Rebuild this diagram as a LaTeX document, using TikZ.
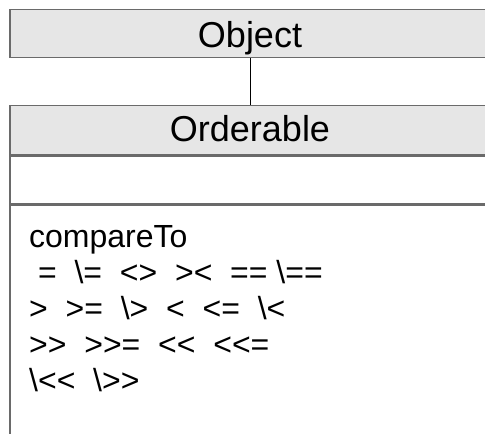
\documentclass[tikz,border=0pt]{standalone}
\usepackage{fontspec}
\newfontfamily\uml{Liberation Sans}
\definecolor{hdrfill}{HTML}{E6E6E6}
\definecolor{edge}{HTML}{6A6A6A}
\tikzset{
  compart/.style={draw=edge, line width=1.4pt, rectangle, inner sep=0pt, minimum width=480pt},
  hdr/.style={compart, fill=hdrfill},
  body/.style={compart, fill=white},
  titletext/.style={font=\uml\fontsize{36}{40}\selectfont, inner sep=0pt, anchor=base},
  methtext/.style={font=\uml\fontsize{32}{36}\selectfont, inner sep=0pt, anchor=base west, align=left},
  link/.style={draw=black, line width=0.9pt}
}
\begin{document}
\begin{tikzpicture}[x=1pt,y=-1pt]
\useasboundingbox (0,0) rectangle (485,434);
\clip (0,0) rectangle (485,434);
% Object class
\node[hdr, minimum height=48pt] (obj) at (250,33.5) {};
\node[titletext] (objname) at (250,47) {Object};
% Orderable class
\node[hdr, minimum height=48.7pt, anchor=north] (ord) at (250,105) {};
\node[titletext] (ordname) at (250,141.5) {Orderable};
\node[body, minimum height=48.3pt, anchor=north] (ordattr) at (ord.south) {};
\node[body, minimum height=260pt, anchor=north] (ordmeth) at (ordattr.south) {};
% base anchor of a multi-line node is the last line's baseline
\node[methtext] (meths) at (29,391.5) {%
\mbox{compareTo}\\
\mbox{\ =\ \ \textbackslash=\ \ <>\ \ ><\ \ ==\ \textbackslash==}\\
\mbox{>\ \ >=\ \ \textbackslash>\ \ <\ \ <=\ \ \textbackslash<}\\
\mbox{>>\ \ >>=\ \ <<\ \ <<=}\\
\mbox{\textbackslash<<\ \ \textbackslash>>}};
% generalization link
\draw[link] (obj.south) -- (ord.north);
\end{tikzpicture}
\end{document}
